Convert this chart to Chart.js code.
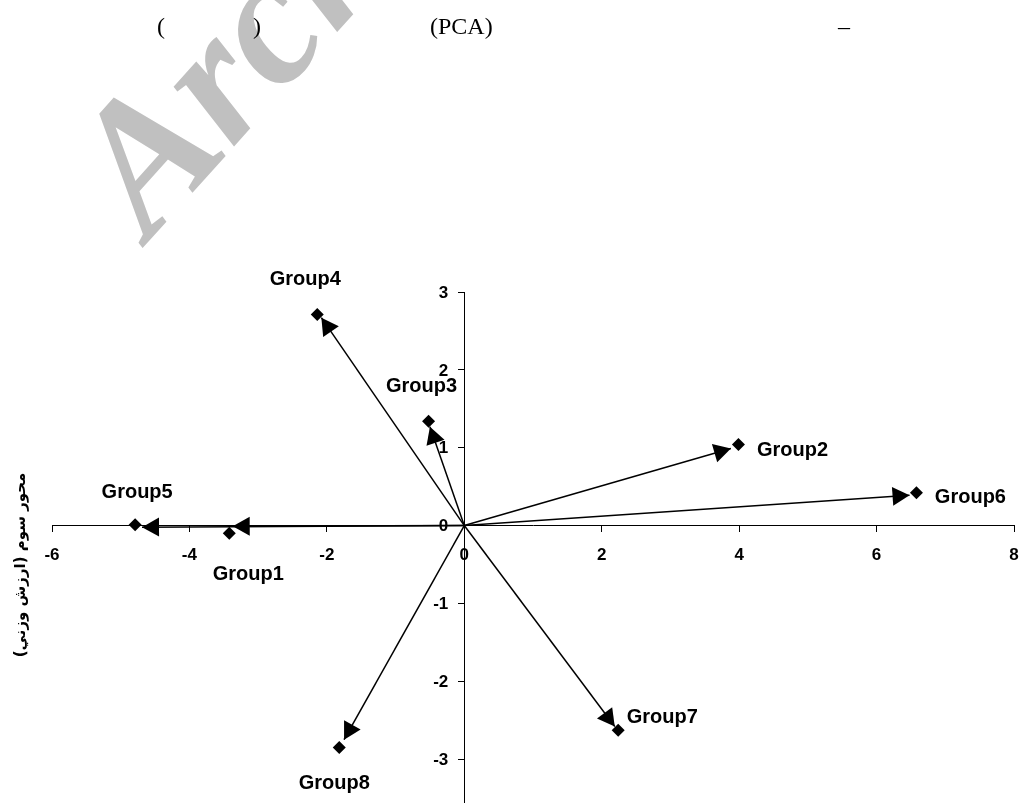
<!DOCTYPE html>
<html>
<head>
<meta charset="utf-8">
<script src="https://cdn.jsdelivr.net/npm/chart.js@4/dist/chart.umd.min.js"></script>
<style>
html, body { margin: 0; padding: 0; background: #fff; overflow: hidden; }
#wrap { position: relative; width: 1030px; height: 803px; overflow: hidden; }
#c { position: absolute; left: 0; top: 0; }
.hdr { position: absolute; top: 11px; font-family: "Liberation Serif", "Times New Roman", serif; font-size: 24px; line-height: 30px; color: #000; white-space: pre; }
</style>
</head>
<body>
<div id="wrap">
  <canvas id="c" width="1030" height="850"></canvas>
  <span class="hdr" style="left:157px">(</span>
  <span class="hdr" style="left:253px">)</span>
  <span class="hdr" style="left:430px">(PCA)</span>
  <span class="hdr" style="left:838px">–</span>
</div>
<script>
// Group scores on the two principal axes
const groups = ['Group1', 'Group2', 'Group3', 'Group4', 'Group5', 'Group6', 'Group7', 'Group8'];
const pointX = [-3.42, 3.99, -0.52, -2.14, -4.79, 6.58, 2.24, -1.82];
const pointY = [-0.10, 1.04, 1.34, 2.71, 0.01, 0.42, -2.63, -2.85];

// Arrow tips drawn from the origin towards each group
const arrowX = [-3.37, 3.88, -0.50, -2.08, -4.69, 6.48, 2.19, -1.75];
const arrowY = [-0.01, 0.99, 1.27, 2.67, -0.02, 0.39, -2.58, -2.75];

// Axis tick values
const xTickValues = [-6, -4, -2, 0, 2, 4, 6, 8];
const yTickValues = [-3, -2, -1, 0, 1, 2, 3];

const yAxisTitle = 'محور سوم (ارزش وزني)';

// Label placement around each marker (pixels: centre x, baseline y)
const labelOffsets = [[19, 47], [54, 11], [-7, -29], [-12, -30], [2, -27], [54, 10], [44, -7], [-5, 42]];

const LABEL_FONT = 'bold 20px "Liberation Sans", Arial, sans-serif';
const TICK_FONT = 'bold 17px "Liberation Sans", Arial, sans-serif';

const arrowDatasets = arrowX.map((x, i) => ({
  label: groups[i] + ' arrow',
  isArrow: true,
  data: [{ x: 0, y: 0 }, { x: x, y: arrowY[i] }],
  showLine: true,
  borderColor: '#000',
  borderWidth: 1.5,
  pointRadius: 0,
  pointHoverRadius: 0,
  fill: false
}));

const pointDataset = {
  label: 'groups',
  isPoints: true,
  data: pointX.map((x, i) => ({ x: x, y: pointY[i] })),
  showLine: false,
  pointStyle: 'rectRot',
  pointRadius: 6.5,
  backgroundColor: '#000',
  borderColor: '#000',
  borderWidth: 0
};

// Filled triangular heads at the end of every arrow line
const arrowHeads = {
  id: 'arrowHeads',
  afterDatasetsDraw(chart) {
    const ctx = chart.ctx;
    chart.data.datasets.forEach((ds, di) => {
      if (!ds.isArrow) return;
      const meta = chart.getDatasetMeta(di);
      const a = meta.data[0], b = meta.data[1];
      const ang = Math.atan2(b.y - a.y, b.x - a.x);
      const len = 17, half = 9.5;
      ctx.save();
      ctx.translate(b.x, b.y);
      ctx.rotate(ang);
      ctx.beginPath();
      ctx.moveTo(0, 0);
      ctx.lineTo(-len, -half);
      ctx.lineTo(-len, half);
      ctx.closePath();
      ctx.fillStyle = '#000';
      ctx.fill();
      ctx.restore();
    });
  }
};

// Group names beside the markers
const pointLabels = {
  id: 'pointLabels',
  afterDatasetsDraw(chart) {
    const ctx = chart.ctx;
    chart.data.datasets.forEach((ds, di) => {
      if (!ds.isPoints) return;
      const meta = chart.getDatasetMeta(di);
      ctx.save();
      ctx.font = LABEL_FONT;
      ctx.fillStyle = '#000';
      ctx.textAlign = 'center';
      ctx.textBaseline = 'alphabetic';
      meta.data.forEach((el, i) => {
        const off = labelOffsets[i];
        ctx.fillText(groups[i], el.x + off[0], el.y + off[1]);
      });
      ctx.restore();
    });
  }
};

// Value labels beside both axes, placed by the scales that cross at the origin
const axisTickLabels = {
  id: 'axisTickLabels',
  afterDraw(chart) {
    const ctx = chart.ctx;
    const xs = chart.scales.x, ys = chart.scales.y;
    const axisX = xs.getPixelForValue(0);
    const axisY = ys.getPixelForValue(0);
    ctx.save();
    ctx.font = TICK_FONT;
    ctx.fillStyle = '#000';
    ctx.textBaseline = 'middle';
    ctx.textAlign = 'right';
    ys.ticks.forEach(t => {
      ctx.fillText(String(t.value), axisX - 16, ys.getPixelForValue(t.value) + 1);
    });
    ctx.textAlign = 'center';
    xs.ticks.forEach(t => {
      ctx.fillText(String(t.value), xs.getPixelForValue(t.value), axisY + 30);
    });
    ctx.restore();
  }
};

// Grey watermark behind the chart
const watermark = {
  id: 'watermark',
  beforeDraw(chart) {
    const ctx = chart.ctx;
    ctx.save();
    ctx.translate(149, 241);
    ctx.rotate(-48 * Math.PI / 180);
    ctx.font = 'italic bold 185px "Liberation Serif", "Times New Roman", serif';
    ctx.fillStyle = '#c0c0c0';
    ctx.textBaseline = 'alphabetic';
    ctx.fillText('Archive of SID', 0, 0);
    ctx.restore();
  }
};

// Rotated vertical axis title
const axisTitle = {
  id: 'axisTitle',
  afterDraw(chart) {
    const ctx = chart.ctx;
    ctx.save();
    ctx.translate(21, 565);
    ctx.rotate(-Math.PI / 2);
    ctx.direction = 'rtl';
    ctx.font = 'bold 15px "DejaVu Sans", sans-serif';
    ctx.fillStyle = '#000';
    ctx.textAlign = 'center';
    ctx.textBaseline = 'middle';
    ctx.fillText(yAxisTitle, 0, 0);
    ctx.restore();
  }
};

new Chart(document.getElementById('c'), {
  type: 'scatter',
  data: { datasets: [pointDataset, ...arrowDatasets] },
  options: {
    responsive: false,
    animation: false,
    devicePixelRatio: 1,
    layout: { padding: { left: 52, right: 16, top: 292, bottom: 13 } },
    plugins: { legend: { display: false }, tooltip: { enabled: false } },
    events: [],
    scales: {
      x: {
        type: 'linear',
        min: -6,
        max: 8,
        position: { y: 0 },
        afterBuildTicks: (s) => { s.ticks = xTickValues.map(v => ({ value: v })); },
        grid: { drawOnChartArea: false, drawTicks: true, tickLength: 6, color: '#000', lineWidth: 1 },
        border: { display: true, color: '#000', width: 1 },
        ticks: { display: false }
      },
      y: {
        type: 'linear',
        min: -4,
        max: 3,
        position: { x: 0 },
        afterBuildTicks: (s) => { s.ticks = yTickValues.map(v => ({ value: v })); },
        grid: { drawOnChartArea: false, drawTicks: true, tickLength: 6, color: '#000', lineWidth: 1 },
        border: { display: true, color: '#000', width: 1 },
        ticks: { display: false }
      }
    }
  },
  plugins: [watermark, arrowHeads, pointLabels, axisTickLabels, axisTitle]
});
</script>
</body>
</html>
